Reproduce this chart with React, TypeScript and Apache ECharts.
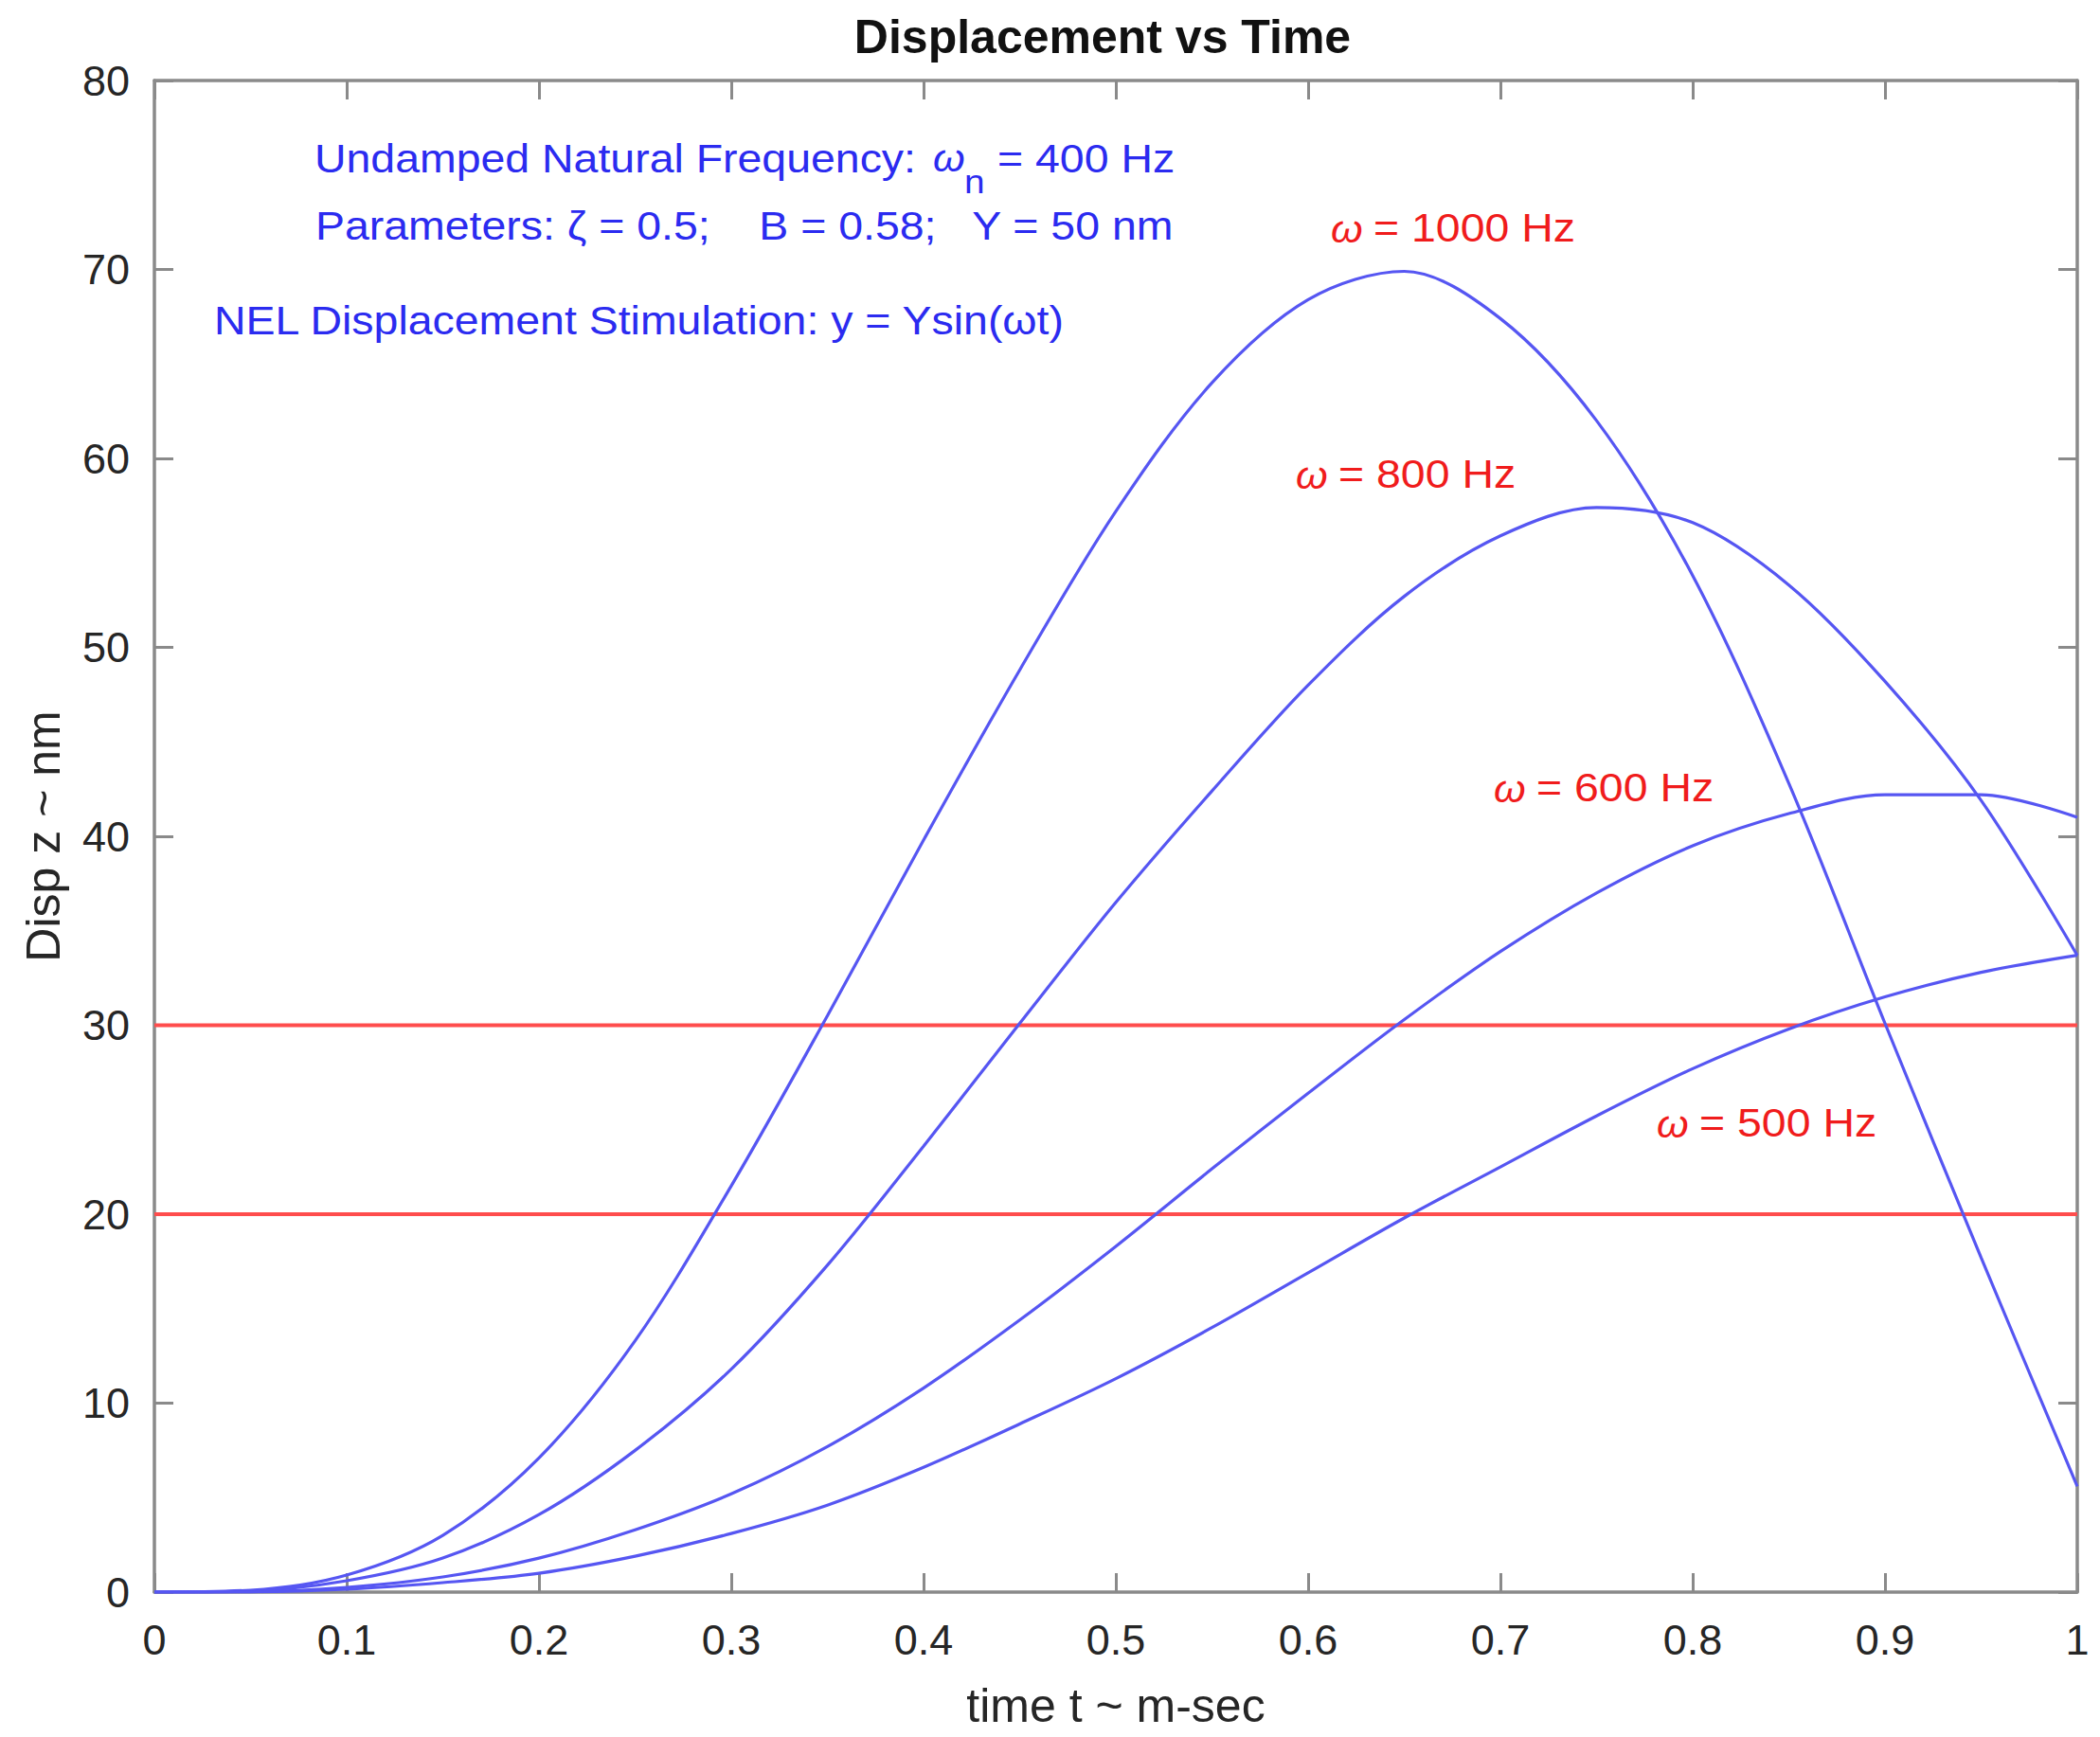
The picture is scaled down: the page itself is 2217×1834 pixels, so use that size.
import React, { useEffect, useRef } from "react";
import * as echarts from "echarts";

// time axis samples (m-sec)
const timeMs = [0, 0.05, 0.1, 0.15, 0.2, 0.25, 0.3, 0.35, 0.4, 0.45, 0.5, 0.55, 0.6, 0.65, 0.7, 0.75, 0.8, 0.85, 0.9, 0.95, 1.0];

// displacement (nm) for each stimulation frequency
const disp1000 = [0, 0.1, 0.9, 3.0, 7.1, 13.3, 21.5, 30.5, 39.8, 48.8, 57.2, 64.0, 68.4, 69.9, 67.4, 62.0, 53.8, 42.8, 30.1, 17.7, 5.6];
const disp800 = [0, 0.06, 0.6, 1.8, 4.1, 7.5, 11.8, 17.3, 23.6, 30.1, 36.5, 42.4, 48.0, 52.7, 55.9, 57.4, 56.6, 53.3, 48.2, 41.9, 33.7];
const disp600 = [0, 0.02, 0.25, 0.8, 1.8, 3.3, 5.2, 7.7, 10.8, 14.4, 18.3, 22.4, 26.4, 30.3, 33.9, 37.0, 39.5, 41.2, 42.2, 42.2, 41.0];
const disp500 = [0, 0.01, 0.15, 0.5, 1.0, 1.9, 3.1, 4.6, 6.6, 8.9, 11.3, 14.0, 16.9, 19.8, 22.5, 25.2, 27.7, 29.8, 31.5, 32.8, 33.7];

// red threshold lines (nm)
const thresholds = [20, 30];

const curveSeries = [
  { name: "1000 Hz", values: disp1000 },
  { name: "800 Hz", values: disp800 },
  { name: "600 Hz", values: disp600 },
  { name: "500 Hz", values: disp500 },
];

const FONT = "'Liberation Sans', Arial, Helvetica, sans-serif";
const AXIS_GREY = "#8a8a8a";
const TEXT_DARK = "#262626";
const BLUE_TEXT = "#2b2bf0";
const RED_TEXT = "#f01c1c";
const SX = 1.08;

function annot(text: string, x: number, y: number, fill: string, fontSize = 43, italic = false) {
  return {
    type: "text",
    x,
    y,
    scaleX: SX,
    silent: true,
    style: {
      text,
      fill,
      fontSize,
      fontFamily: FONT,
      fontStyle: italic ? "italic" : "normal",
      align: "left",
      verticalAlign: "middle",
    },
  };
}

export default function App() {
  const ref = useRef<HTMLDivElement>(null);

  useEffect(() => {
    if (!ref.current) return;
    const chart = echarts.init(ref.current, undefined, { renderer: "svg" });

    const series: any[] = curveSeries.map((c) => ({
      name: c.name,
      type: "line",
      xAxisIndex: 0,
      yAxisIndex: 0,
      data: timeMs.map((t, i) => [t, c.values[i]]),
      showSymbol: false,
      smooth: 0.33,
      lineStyle: { color: "#5656f2", width: 3.2 },
      z: 3,
    }));
    thresholds.forEach((v) => {
      series.push({
        name: "threshold " + v,
        type: "line",
        xAxisIndex: 0,
        yAxisIndex: 0,
        data: [
          [0, v],
          [1, v],
        ],
        showSymbol: false,
        lineStyle: { color: "#ff4d4d", width: 4 },
        z: 2,
      });
    });

    const tickCommon = {
      show: true,
      inside: true,
      length: 20,
      lineStyle: { color: AXIS_GREY, width: 3 },
    };
    const lineCommon = { show: true, onZero: false, lineStyle: { color: AXIS_GREY, width: 3.5 } };

    chart.setOption({
      animation: false,
      backgroundColor: "#ffffff",
      title: {
        text: "Displacement vs Time",
        left: 1164,
        top: 14,
        padding: 0,
        textAlign: "center",
        textStyle: { fontFamily: FONT, fontSize: 50, fontWeight: "bold", color: "#111111" },
      },
      grid: { left: 163, right: 24, top: 85, bottom: 153, containLabel: false },
      xAxis: [
        {
          type: "value",
          min: 0,
          max: 1,
          interval: 0.1,
          position: "bottom",
          name: "time t ~ m-sec",
          nameLocation: "middle",
          nameGap: 95,
          nameTextStyle: { fontFamily: FONT, fontSize: 50, color: TEXT_DARK },
          axisLine: lineCommon,
          axisTick: tickCommon,
          axisLabel: { fontFamily: FONT, fontSize: 45, color: TEXT_DARK, margin: 28 },
          splitLine: { show: false },
        },
        {
          type: "value",
          min: 0,
          max: 1,
          interval: 0.1,
          position: "top",
          axisLine: lineCommon,
          axisTick: tickCommon,
          axisLabel: { show: false },
          splitLine: { show: false },
        },
      ],
      yAxis: [
        {
          type: "value",
          min: 0,
          max: 80,
          interval: 10,
          position: "left",
          name: "Disp z ~ nm",
          nameLocation: "middle",
          nameGap: 92,
          nameTextStyle: { fontFamily: FONT, fontSize: 50, color: TEXT_DARK },
          axisLine: lineCommon,
          axisTick: tickCommon,
          axisLabel: { fontFamily: FONT, fontSize: 45, color: TEXT_DARK, margin: 26 },
          splitLine: { show: false },
        },
        {
          type: "value",
          min: 0,
          max: 80,
          interval: 10,
          position: "right",
          axisLine: lineCommon,
          axisTick: tickCommon,
          axisLabel: { show: false },
          splitLine: { show: false },
        },
      ],
      graphic: [
        annot("Undamped Natural Frequency:", 332, 167, BLUE_TEXT),
        annot("ω", 985, 167, BLUE_TEXT, 40, true),
        annot("n", 1018, 192, BLUE_TEXT, 36),
        annot("= 400 Hz", 1053, 167, BLUE_TEXT),
        annot("Parameters: ζ = 0.5;    B = 0.58;   Y = 50 nm", 333, 238, BLUE_TEXT),
        annot("NEL Displacement Stimulation: y = Ysin(ωt)", 226, 338, BLUE_TEXT),
        annot("ω", 1405, 242, RED_TEXT, 40, true),
        annot("= 1000 Hz", 1450, 240, RED_TEXT),
        annot("ω", 1368, 502, RED_TEXT, 40, true),
        annot("= 800 Hz", 1413, 500, RED_TEXT),
        annot("ω", 1577, 833, RED_TEXT, 40, true),
        annot("= 600 Hz", 1622, 831, RED_TEXT),
        annot("ω", 1749, 1187, RED_TEXT, 40, true),
        annot("= 500 Hz", 1794, 1185, RED_TEXT),
      ],
      series,
    });

    return () => {
      chart.dispose();
    };
  }, []);

  return (
    <div
      ref={ref}
      style={{ position: "absolute", left: 0, top: 0, width: 2217, height: 1834, background: "#ffffff" }}
    />
  );
}
